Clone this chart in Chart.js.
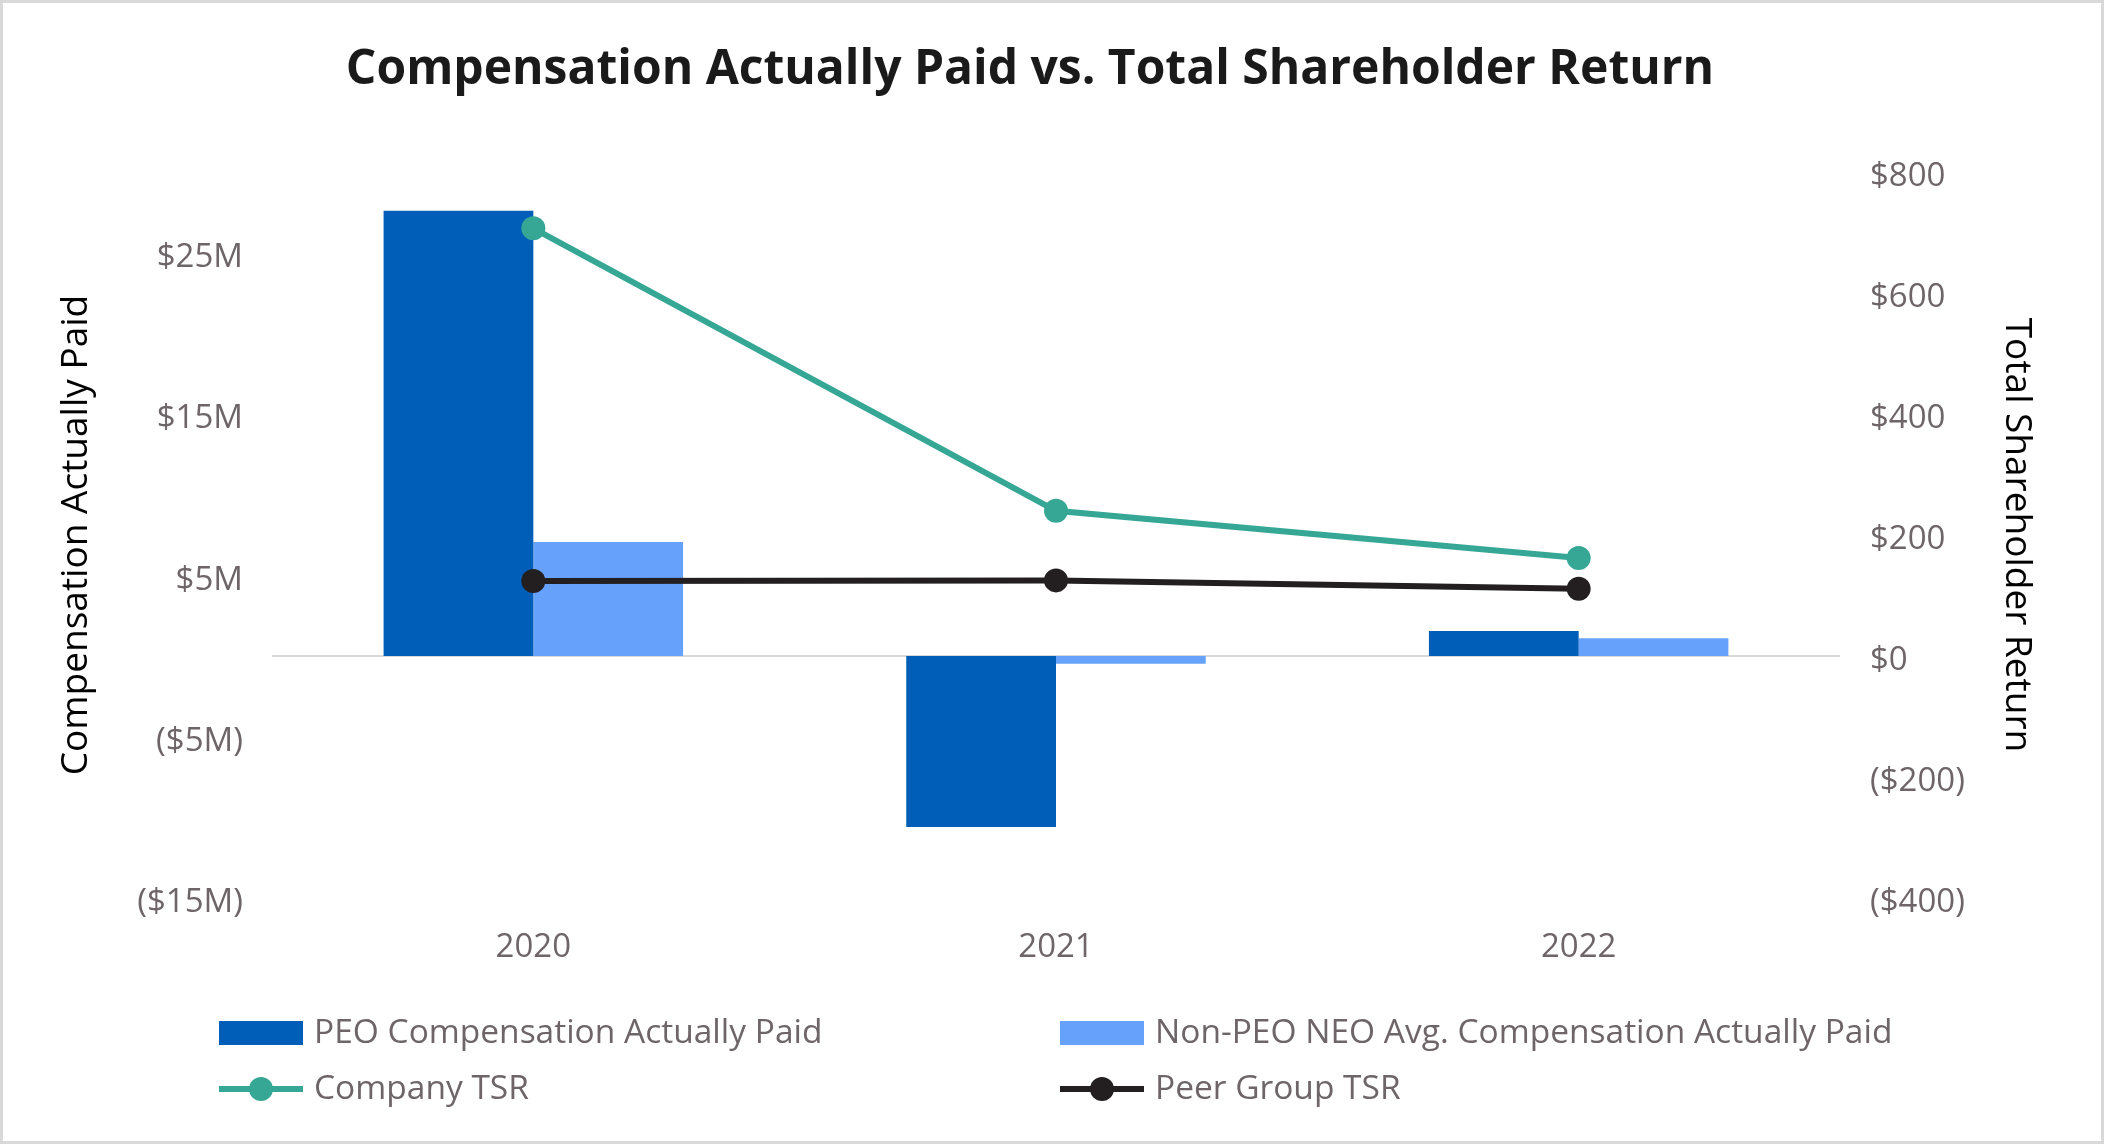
<!DOCTYPE html>
<html>
<head>
<meta charset="utf-8">
<script src="https://cdn.jsdelivr.net/npm/chart.js@4.4.1/dist/chart.umd.min.js"></script>
<style>
  html, body { margin: 0; padding: 0; background: #ffffff; }
  #wrap { width: 2104px; height: 1144px; }
</style>
</head>
<body>
<div id="wrap"><canvas id="c" width="2104" height="1144"></canvas></div>
<script>
const TITLE = 'Compensation Actually Paid vs. Total Shareholder Return';
const YEARS = ['2020', '2021', '2022'];
const PEO_CAP = [27.6, -10.6, 1.55];          // $M
const NON_PEO_CAP = [7.07, -0.48, 1.1];       // $M
const COMPANY_TSR = [707, 240, 162];          // $
const PEER_TSR = [124, 125, 111];             // $
const LEFT_TICKS = [-15, -5, 5, 15, 25];      // $M
const RIGHT_TICKS = [-400, -200, 0, 200, 400, 600, 800];
const LEFT_TITLE = 'Compensation Actually Paid';
const RIGHT_TITLE = 'Total Shareholder Return';
const SERIES_NAMES = ['PEO Compensation Actually Paid', 'Non-PEO NEO Avg. Compensation Actually Paid', 'Company TSR', 'Peer Group TSR'];

const FONT = "'Open Sans', 'DejaVu Sans', sans-serif";
const GREY = '#6d6568';

function fmtM(v) { return v < 0 ? '($' + Math.abs(v) + 'M)' : '$' + v + 'M'; }
function fmtD(v) { return v < 0 ? '($' + Math.abs(v) + ')' : '$' + v; }

const frame = {
  id: 'frame',
  beforeDraw(chart) {
    const ctx = chart.ctx;
    ctx.save();
    ctx.fillStyle = '#ffffff';
    ctx.fillRect(0, 0, chart.width, chart.height);
    ctx.strokeStyle = '#d9d9d9';
    ctx.lineWidth = 3;
    ctx.strokeRect(1.5, 1.5, chart.width - 3, chart.height - 3);
    ctx.restore();
  }
};

const fixedTitle = {
  id: 'fixedTitle',
  afterDraw(chart, args, opts) {
    const ctx = chart.ctx;
    ctx.save();
    ctx.font = '700 48px ' + FONT;
    ctx.fillStyle = '#1a1a1a';
    ctx.textAlign = 'center';
    ctx.textBaseline = 'middle';
    ctx.fillText(opts.text, opts.x, opts.y);
    ctx.restore();
  }
};

const customLegend = {
  id: 'customLegend',
  afterDraw(chart, args, opts) {
    const ctx = chart.ctx;
    ctx.save();
    chart.data.datasets.forEach((ds, i) => {
      const col = i % 2, row = Math.floor(i / 2);
      const x = opts.cols[col], y = opts.rows[row];
      if (ds.type === 'line') {
        ctx.strokeStyle = ds.borderColor;
        ctx.lineWidth = ds.borderWidth;
        ctx.beginPath();
        ctx.moveTo(x, y);
        ctx.lineTo(x + opts.markerW, y);
        ctx.stroke();
        ctx.fillStyle = ds.pointBackgroundColor;
        ctx.beginPath();
        ctx.arc(x + opts.markerW / 2, y, ds.pointRadius, 0, Math.PI * 2);
        ctx.fill();
      } else {
        ctx.fillStyle = ds.backgroundColor;
        ctx.fillRect(x, y - opts.boxH / 2, opts.markerW, opts.boxH);
      }
      ctx.font = '33.5px ' + FONT;
      ctx.fillStyle = GREY;
      ctx.textAlign = 'left';
      ctx.textBaseline = 'middle';
      ctx.fillText(ds.label, x + opts.textGap, y);
    });
    ctx.restore();
  }
};

const chart = new Chart(document.getElementById('c'), {
  data: {
    labels: YEARS,
    datasets: [
      { type: 'bar', label: SERIES_NAMES[0], data: PEO_CAP, yAxisID: 'y', backgroundColor: '#005db8', order: 2,
        categoryPercentage: 0.573, barPercentage: 1.0 },
      { type: 'bar', label: SERIES_NAMES[1], data: NON_PEO_CAP, yAxisID: 'y', backgroundColor: '#66a2fb', order: 2,
        categoryPercentage: 0.573, barPercentage: 1.0 },
      { type: 'line', label: SERIES_NAMES[2], data: COMPANY_TSR, yAxisID: 'y1', borderColor: '#36a795', borderWidth: 6,
        pointBackgroundColor: '#36a795', pointBorderWidth: 0, pointRadius: 12, tension: 0, order: 1 },
      { type: 'line', label: SERIES_NAMES[3], data: PEER_TSR, yAxisID: 'y1', borderColor: '#231f20', borderWidth: 6,
        pointBackgroundColor: '#231f20', pointBorderWidth: 0, pointRadius: 12, tension: 0, order: 0 }
    ]
  },
  options: {
    responsive: false,
    animation: false,
    devicePixelRatio: 1,
    layout: { padding: { top: 172, bottom: 0, left: 0, right: 0 } },
    plugins: {
      legend: { display: false },
      tooltip: { enabled: false },
      title: { display: false },
      fixedTitle: { text: TITLE, x: 1030, y: 70 },
      customLegend: { cols: [219, 1060], rows: [1033, 1089], markerW: 84, boxH: 24, textGap: 95 }
    },
    scales: {
      x: {
        grid: { display: false, drawTicks: false },
        border: { display: false },
        ticks: { color: GREY, font: { family: FONT, size: 33 }, padding: 30 },
        afterFit(s) { s.height = 246; }
      },
      y: {
        position: 'left',
        min: -15, max: 30,
        grid: { display: false, drawTicks: false },
        border: { display: false },
        afterBuildTicks(s) { s.ticks = LEFT_TICKS.map(v => ({ value: v })); },
        ticks: { color: GREY, font: { family: FONT, size: 33 }, padding: 29, labelOffset: 5, callback: v => fmtM(v) },
        title: { display: true, text: LEFT_TITLE, color: '#000000', font: { family: FONT, size: 37 }, padding: { top: 54 } },
        afterFit(s) { s.width = 272; }
      },
      y1: {
        position: 'right',
        min: -400, max: 800,
        grid: { drawTicks: false, lineWidth: 2, color: c => (c.tick && c.tick.value === 0) ? '#d9d9d9' : 'rgba(0,0,0,0)' },
        border: { display: false },
        afterBuildTicks(s) { s.ticks = RIGHT_TICKS.map(v => ({ value: v })); },
        ticks: { color: GREY, font: { family: FONT, size: 33 }, padding: 30, labelOffset: 5, callback: v => fmtD(v) },
        title: { display: true, text: RIGHT_TITLE, color: '#000000', font: { family: FONT, size: 37 }, padding: { top: 65 } },
        afterFit(s) { s.width = 264; }
      }
    }
  },
  plugins: [frame, fixedTitle, customLegend]
});
</script>
</body>
</html>
